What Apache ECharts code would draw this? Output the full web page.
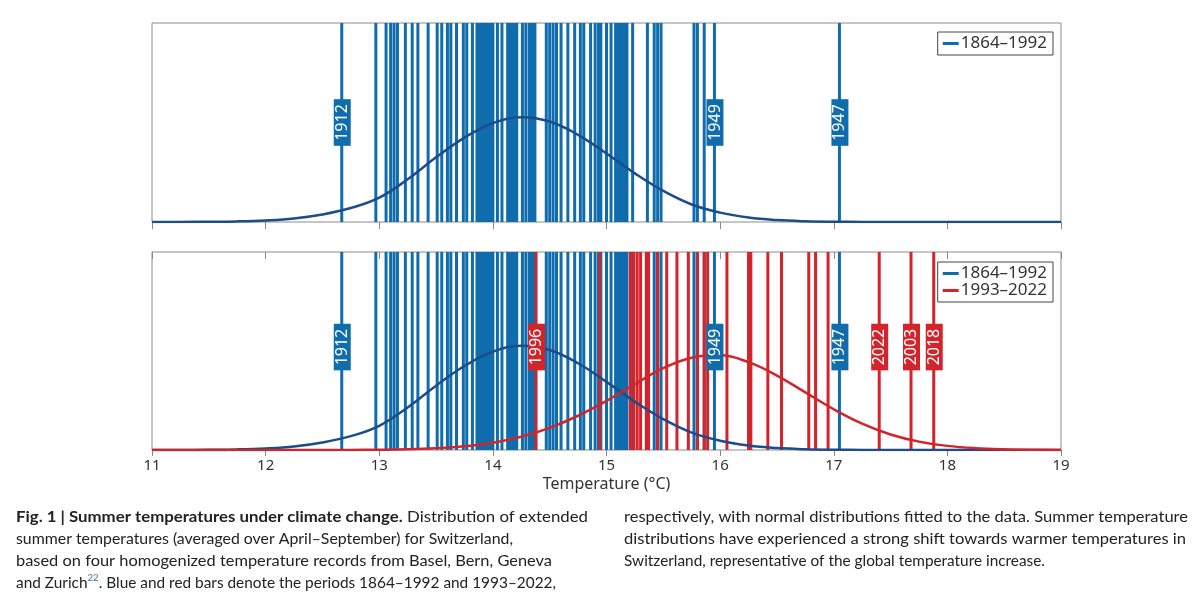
<!DOCTYPE html>
<html>
<head>
<meta charset="utf-8">
<script src="https://cdn.jsdelivr.net/npm/echarts@6/dist/echarts.min.js"></script>
<style>
html,body{margin:0;padding:0;background:#fff;}
#chart{width:1199px;height:604px;}
</style>
</head>
<body>
<div id="chart"></div>
<script>
// ---- data ----
const blueTemps = [12.67, 12.97, 13.06, 13.10, 13.13, 13.16, 13.23, 13.29, 13.34, 13.43,
  13.51, 13.55, 13.60, 13.63, 13.68, 13.74, 13.77, 13.82,
  13.86, 13.88, 13.90, 13.92, 13.94, 13.96, 13.98, 14.00,
  14.04, 14.08, 14.13, 14.15, 14.17, 14.19, 14.21, 14.26, 14.29,
  14.32, 14.34, 14.36, 14.37, 14.47, 14.50, 14.53, 14.56, 14.60, 14.66, 14.72,
  14.77, 14.80, 14.86, 14.90, 14.93, 14.95, 15.00, 15.04,
  15.08, 15.10, 15.12, 15.14, 15.16, 15.18, 15.23, 15.36, 15.42, 15.45, 15.48,
  15.77, 15.80, 15.86, 15.95, 17.05];
const redTemps = [14.38, 14.94, 15.21, 15.24, 15.27, 15.30, 15.35, 15.37, 15.45, 15.53,
  15.62, 15.72, 15.80, 15.86, 15.89, 16.06, 16.25, 16.27, 16.42, 16.54,
  16.78, 16.84, 16.95, 17.40, 17.68, 17.88];
const blueLabelYears = ['1912', '1949', '1947'];
const blueLabelTemps = [12.67, 15.95, 17.05];
const redLabelYears = ['1996', '2022', '2003', '2018'];
const redLabelTemps = [14.38, 17.40, 17.68, 17.88];
const curveTemps = [11, 11.25, 11.5, 11.75, 12, 12.25, 12.5, 12.75, 13, 13.25, 13.5, 13.75,
  14, 14.25, 14.5, 14.75, 15, 15.25, 15.5, 15.75, 16, 16.25, 16.5, 16.75, 17, 17.25,
  17.5, 17.75, 18, 18.25, 18.5, 18.75, 19];
const blueCurve = [0.0001, 0.0004, 0.0011, 0.0030, 0.0080, 0.0180, 0.0380, 0.0700, 0.1220,
  0.2150, 0.3250, 0.4240, 0.4970, 0.5268, 0.5051, 0.4381, 0.3439, 0.2442, 0.1560, 0.0880,
  0.0470, 0.0225, 0.0098, 0.0038, 0.0013, 0.0004, 0.0001, 0, 0, 0, 0, 0, 0];
const redCurve = [0, 0, 0, 0, 0, 0, 0.0001, 0.0004, 0.0012, 0.0035, 0.0090, 0.0190, 0.0370,
  0.0670, 0.1120, 0.1730, 0.2480, 0.3330, 0.4130, 0.4660, 0.4780, 0.4435, 0.3760, 0.2911,
  0.2059, 0.1330, 0.0784, 0.0422, 0.0208, 0.0093, 0.0038, 0.0014, 0.0005];
const xTicks = [11, 12, 13, 14, 15, 16, 17, 18, 19];
const seriesNames = ['1864\u20131992', '1993\u20132022'];
const axisTitle = 'Temperature (\u00B0C)';
// caption lines: [segments], segments are [text, kind] with kind 'b' bold, 'sup' superscript, '' normal
const captionLeft = [
  [['Fig. 1 | Summer temperatures under climate change.', 'b'], [' Distribution of extended', '']],
  [['summer temperatures (averaged over April\u2013September) for Switzerland,', '']],
  [['based on four homogenized temperature records from Basel, Bern, Geneva', '']],
  [['and Zurich', ''], ['22', 'sup'], ['. Blue and red bars denote the periods 1864\u20131992 and 1993\u20132022,', '']]
];
const captionRight = [
  [['respectively, with normal distributions fitted to the data. Summer temperature', '']],
  [['distributions have experienced a strong shift towards warmer temperatures in', '']],
  [['Switzerland, representative of the global temperature increase.', '']]
];

// ---- styles / layout ----
const BLUE_BAR = '#0f6dad', BLUE_LINE = '#1c4c8a', RED_BAR = '#d3232b', RED_LINE = '#cf262d';
const FONT = '"Noto Sans", "Open Sans", sans-serif';
const CAP_FAMILY = 'Lato';
const CAP_SIZE = 16, SUP_SIZE = 10;
const BAR_W = 3;
const capLeftX = 16, capRightX = 624;
const capLineY = [517, 539, 561, 583];
const capLeftEnds = [588, 513, 552, 556];
const capRightEnds = [1188, 1186, 1045];

const chart = echarts.init(document.getElementById('chart'));

function barSeries(temps, color, gi, z) {
  return {
    type: 'custom', xAxisIndex: gi, yAxisIndex: gi, z: z, silent: true,
    data: temps.map(t => [t, 1]),
    encode: {x: 0, y: 1},
    renderItem: function (params, api) {
      const p0 = api.coord([api.value(0), 0]);
      const p1 = api.coord([api.value(0), 1]);
      return {type: 'rect', shape: {x: p0[0] - BAR_W / 2, y: p1[1], width: BAR_W, height: p0[1] - p1[1]},
        style: {fill: color}};
    }
  };
}
function labelSeries(years, temps, bg, gi, yFrac) {
  return {
    type: 'custom', xAxisIndex: gi, yAxisIndex: gi, z: 10, silent: true,
    data: temps.map(t => [t, 1]),
    encode: {x: 0, y: 1},
    renderItem: function (params, api) {
      const p = api.coord([api.value(0), yFrac]);
      return {type: 'text', x: p[0] + 0.5, y: p[1], rotation: Math.PI / 2,
        style: {text: years[params.dataIndex], fill: '#fff', fontSize: 16, fontFamily: FONT,
          align: 'center', verticalAlign: 'middle', backgroundColor: bg, padding: [1, 5, 0, 5]}};
    }
  };
}
function curveSeries(name, vals, color, gi) {
  return {
    type: 'line', name: name, xAxisIndex: gi, yAxisIndex: gi, z: 5, silent: true,
    smooth: 0.4, showSymbol: false, symbol: 'none', clip: true,
    data: curveTemps.map((t, i) => [t, vals[i]]),
    lineStyle: {width: 2.5, color: color}, itemStyle: {color: color}
  };
}

const xBase = {type: 'value', min: xTicks[0], max: xTicks[xTicks.length - 1], interval: 1,
  splitLine: {show: false}, axisLine: {show: false}};

const legendBase = {orient: 'vertical', right: 146, backgroundColor: '#fff', borderColor: '#444',
  borderWidth: 1, padding: [3, 6, 3, 5], itemGap: 0, itemWidth: 16, itemHeight: 3, icon: 'rect',
  selectedMode: false, textStyle: {fontSize: 17, color: '#333', fontFamily: FONT, padding: [0, 0, 0, -3]}};

// caption: measure each line and stretch it to the reference line width
const mctx = document.createElement('canvas').getContext('2d');
function segWidth(seg) {
  const size = seg[1] === 'sup' ? SUP_SIZE : CAP_SIZE;
  mctx.font = (seg[1] === 'b' ? 'bold ' : '') + size + 'px ' + CAP_FAMILY;
  return mctx.measureText(seg[0]).width;
}
const captionRich = {
  b: {fontWeight: 'bold', fontSize: CAP_SIZE, fontFamily: CAP_FAMILY, fill: '#222'},
  sup: {fontSize: SUP_SIZE, fontFamily: CAP_FAMILY, fill: '#3c6fa8', verticalAlign: 'top', lineHeight: 20}
};
function capLine(segs, x, y, endX) {
  const w = segs.reduce((s, g) => s + segWidth(g), 0);
  const text = segs.map(g => g[1] ? '{' + g[1] + '|' + g[0] + '}' : g[0]).join('');
  return {type: 'text', x: x, y: y, scaleX: (endX - x) / w, silent: true,
    style: {text: text, fontSize: CAP_SIZE, fontFamily: CAP_FAMILY, fill: '#222',
      verticalAlign: 'middle', rich: captionRich}};
}
const graphics = [];
captionLeft.forEach((segs, i) => graphics.push(capLine(segs, capLeftX, capLineY[i], capLeftEnds[i])));
captionRight.forEach((segs, i) => graphics.push(capLine(segs, capRightX, capLineY[i], capRightEnds[i])));

chart.setOption({
  animation: false,
  backgroundColor: '#fff',
  grid: [
    {left: 152, right: 138, top: 23, height: 199, show: true, borderColor: '#8c8c8c', borderWidth: 1},
    {left: 152, right: 138, top: 252, height: 198, show: true, borderColor: '#8c8c8c', borderWidth: 1}
  ],
  xAxis: [
    Object.assign({gridIndex: 0, axisLabel: {show: false},
      axisTick: {show: true, length: 7, lineStyle: {color: '#888'}}}, xBase),
    Object.assign({gridIndex: 1,
      axisLabel: {show: true, fontSize: 15, color: '#333', fontFamily: FONT, margin: 8},
      axisTick: {show: true, length: 6, lineStyle: {color: '#888'}},
      name: axisTitle, nameLocation: 'middle', nameGap: 26,
      nameTextStyle: {fontSize: 16, color: '#333', fontFamily: FONT}}, xBase),
    Object.assign({gridIndex: 1, position: 'top', axisLabel: {show: false},
      axisTick: {show: true, inside: true, length: 7, lineStyle: {color: '#888'}}}, xBase)
  ],
  yAxis: [
    {gridIndex: 0, type: 'value', min: 0, max: 1, show: false},
    {gridIndex: 1, type: 'value', min: 0, max: 1, show: false}
  ],
  legend: [
    Object.assign({top: 32, data: [{name: seriesNames[0], itemStyle: {color: BLUE_BAR}}]}, legendBase),
    Object.assign({top: 262, data: [{name: seriesNames[0], itemStyle: {color: BLUE_BAR}},
      {name: seriesNames[1], itemStyle: {color: RED_BAR}}]}, legendBase)
  ],
  series: [
    barSeries(blueTemps, BLUE_BAR, 0, 2),
    curveSeries(seriesNames[0], blueCurve, BLUE_LINE, 0),
    labelSeries(blueLabelYears, blueLabelTemps, BLUE_BAR, 0, 0.5),
    barSeries(blueTemps, BLUE_BAR, 1, 2),
    barSeries(redTemps, RED_BAR, 1, 3),
    curveSeries(seriesNames[0], blueCurve, BLUE_LINE, 1),
    curveSeries(seriesNames[1], redCurve, RED_LINE, 1),
    labelSeries(blueLabelYears, blueLabelTemps, BLUE_BAR, 1, 0.52),
    labelSeries(redLabelYears, redLabelTemps, RED_BAR, 1, 0.52)
  ],
  graphic: graphics
});
</script>
</body>
</html>
